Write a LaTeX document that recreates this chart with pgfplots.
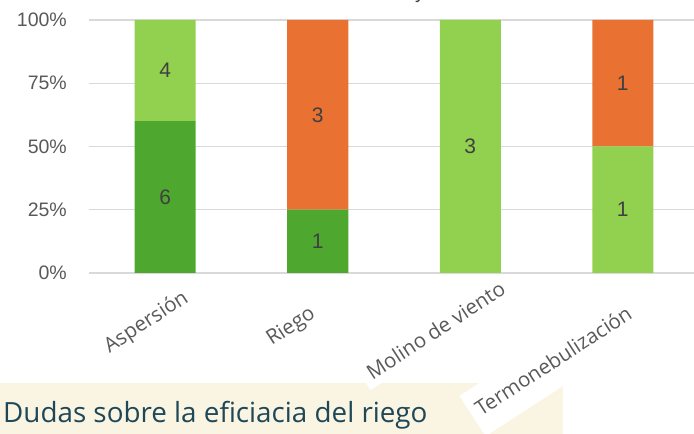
\documentclass[border=0pt]{standalone}
\usepackage{pgfplots}
\pgfplotsset{compat=1.18}
\usepackage{pgfplotstable}
\usepackage{fontspec}
\setmainfont{Liberation Sans}
\newfontfamily\catfont{Open Sans}

\definecolor{verdeosc}{HTML}{4EA72E}
\definecolor{verdecl}{HTML}{92D050}
\definecolor{naranja}{HTML}{E97132}
\definecolor{gristxt}{HTML}{595959}
\definecolor{grisdat}{HTML}{404040}
\definecolor{rejilla}{HTML}{D9D9D9}
\definecolor{crema}{RGB}{250,244,226}
\definecolor{azulosc}{HTML}{1E4757}

% p = porcentaje de la barra, n = respuestas
\pgfplotstableread{
x p n
0 60 6
1 25 1
2 0 0
3 0 0
}\tverdeosc
\pgfplotstableread{
x p n
0 40 4
1 0 0
2 100 3
3 50 1
}\tverdecl
\pgfplotstableread{
x p n
0 0 0
1 75 3
2 0 0
3 50 1
}\tnaranja

\begin{document}
\begin{tikzpicture}[x=1pt,y=1pt]
\useasboundingbox (0,0) rectangle (694,434);
\clip (0,0) rectangle (694,434);
\fill[crema] (0,0) rectangle (563,51);
\node[anchor=base west, inner sep=0pt, text=azulosc,
      font=\catfont\fontsize{27.8}{32}\selectfont] at (3,11) {Dudas sobre la eficiacia del riego};
\node[anchor=base, inner sep=0pt, text=grisdat,
      font=\fontsize{20}{24}\selectfont] at (420,435) {y};
\begin{axis}[
    at={(89pt,161pt)}, anchor=south west,
    scale only axis, width=610pt, height=253pt,
    ybar stacked, bar width=61pt,
    xmin=-0.5, xmax=3.5, ymin=0, ymax=100,
    enlargelimits=false,
    axis line style={draw=none},
    major tick length=0pt,
    ymajorgrids, grid style={rejilla, line width=1.3pt},
    xtick={0,1,2,3},
    xticklabels={Aspersión, Riego\hspace*{30pt}, Molino de viento\hspace*{-15pt},
                 \rule[-12pt]{0pt}{34pt}Termonebulización\hspace*{20pt}},
    ytick={0,25,50,75,100},
    yticklabel={\pgfmathprintnumber{\tick}\%},
    /pgf/number format/assume math mode=true,
    yticklabel style={font=\fontsize{19.5}{23}\selectfont, text=gristxt,
                      inner sep=0pt, anchor=east, xshift=-22pt},
    xticklabel style={font=\catfont\fontsize{20.5}{24}\selectfont, text=gristxt,
                      rotate=33, anchor=north east, fill=white, inner sep=7pt,
                      xshift=12pt, yshift=-14pt},
    point meta=explicit,
    nodes near coords={\pgfmathfloatifflags{\pgfplotspointmeta}{0}{}{\pgfmathprintnumber{\pgfplotspointmeta}}},
    every node near coord/.append style={font=\fontsize{21}{25}\selectfont,
                      text=grisdat, anchor=center},
]
\addplot[fill=verdeosc, draw=none] table[x=x, y=p, meta=n] {\tverdeosc};
\addplot[fill=verdecl, draw=none] table[x=x, y=p, meta=n] {\tverdecl};
\addplot[fill=naranja, draw=none] table[x=x, y=p, meta=n] {\tnaranja};
\end{axis}
\end{tikzpicture}
\end{document}
